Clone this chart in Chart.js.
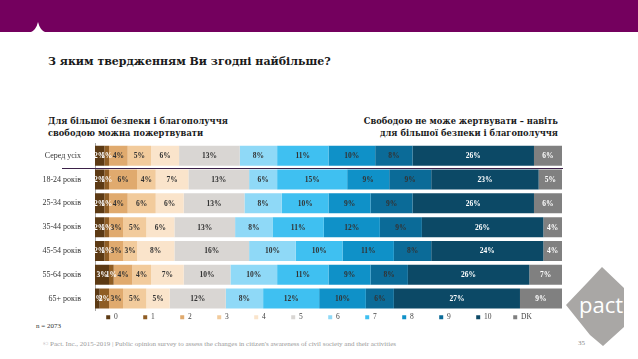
<!DOCTYPE html>
<html>
<head>
<meta charset="utf-8">
<script src="https://cdn.jsdelivr.net/npm/chart.js@4.4.1/dist/chart.umd.min.js"></script>
<style>
  body { margin:0; width:638px; height:359px; overflow:hidden; background:#fff; position:relative; font-family:"Liberation Serif", serif; }
  .band { position:absolute; left:0; top:0; width:638px; height:32px; background:#74005e; }
  .title { position:absolute; left:48px; top:55px; font-family:"DejaVu Serif", serif; font-size:11px; font-weight:bold; color:#1a1a1a; }
  .sub { position:absolute; top:115px; font-family:"DejaVu Serif", serif; font-size:8.3px; font-weight:bold; color:#1a1a1a; line-height:12px; }
  .left { left:48px; }
  .right { right:80px; text-align:right; }
  .n { position:absolute; left:36px; top:322px; font-size:7px; color:#333; }
  .foot { position:absolute; left:43px; top:340px; font-size:7px; color:#9a9a9a; }
  .page { position:absolute; left:578px; top:339px; font-size:7px; color:#8a8a8a; }
  #wrap { position:absolute; left:0; top:133px; width:638px; height:198px; }
  svg { position:absolute; left:0; top:0; }
</style>
</head>
<body>
<div class="band"></div>
<svg width="638" height="359">
  <path d="M31 32 Q36 30 38 22 Q40 30 45 32 Z" fill="#fff"/>
  <path d="M602 267 L624 288 L624 327 L603 346 L590 335 L566 305 L587 283 Z" fill="#a9a7a5"/>
  <text x="601" y="313" font-family="Open Sans, sans-serif" font-size="22" fill="#fff" text-anchor="middle">pact</text>
</svg>
<div class="title">З яким твердженням Ви згодні найбільше?</div>
<div class="sub left">Для більшої безпеки і благополуччя<br>свободою можна пожертвувати</div>
<div class="sub right">Свободою не може жертвувати – навіть<br>для більшої безпеки і благополуччя</div>
<div class="n">n = 2073</div>
<div class="foot">© Pact. Inc., 2015-2019 | Public opinion survey to assess the changes in citizen's awareness of civil society and their activities</div>
<div class="page">35</div>
<div id="wrap"><canvas id="c"></canvas></div>
<script>
// CATEGORIES
const groups = ["Серед усіх","18-24 років","25-34 років","35-44 років","45-54 років","55-64 років","65+ років"];
const seriesNames = ["0","1","2","3","4","5","6","7","8","9","10","DK"];

// VALUES (%), one array per answer, in the order of groups
const v0  = [2,2,2,2,2,3,1];
const v1  = [1,1,1,1,1,1,2];
const v2  = [4,6,4,3,3,4,3];
const v3  = [5,4,6,5,3,4,5];
const v4  = [6,7,6,6,8,7,5];
const v5  = [13,13,13,13,16,10,12];
const v6  = [8,6,8,8,10,10,8];
const v7  = [11,15,10,11,10,11,12];
const v8  = [10,9,9,12,11,9,10];
const v9  = [8,9,9,9,8,8,6];
const v10 = [26,23,26,26,24,26,27];
const vDK = [6,5,6,4,4,7,9];

const series = [v0,v1,v2,v3,v4,v5,v6,v7,v8,v9,v10,vDK];
const colors = ["#5c3a14","#8f5d24","#e0aa6e","#f2cb9c","#fae4cb","#d9d6d3","#8fd9f7","#3fc0f1","#0f91c8","#0b6b98","#0c4966","#808080"];
const whiteText = [true,true,false,false,false,false,false,false,false,false,true,true];

const legendFont = "7.5px 'Liberation Serif', serif";

// LABELS ON BARS
const barLabels = {
  id: "barLabels",
  afterDatasetsDraw(chart){
    const ctx = chart.ctx;
    ctx.save();
    ctx.font = "bold 7.5px 'Liberation Serif', serif";
    ctx.textAlign = "center";
    ctx.textBaseline = "middle";
    chart.data.datasets.forEach((ds, i) => {
      chart.getDatasetMeta(i).data.forEach((bar, j) => {
        ctx.fillStyle = whiteText[i] ? "#ffffff" : "#333333";
        ctx.fillText(ds.data[j] + "%", (bar.x + bar.base) / 2, bar.y + 0.5);
      });
    });
    // separator under the first row
    const y = chart.scales.y;
    const ly = Math.round((y.getPixelForValue(0) + y.getPixelForValue(1)) / 2) + 0.5;
    ctx.strokeStyle = "#3b2148";
    ctx.lineWidth = 1;
    ctx.beginPath();
    ctx.moveTo(62, ly);
    ctx.lineTo(chart.chartArea.right + 1, ly);
    ctx.stroke();
    ctx.restore();
  }
};

new Chart(document.getElementById("c"), {
  type: "bar",
  data: {
    labels: groups,
    datasets: series.map((d, i) => ({
      label: seriesNames[i],
      data: d,
      backgroundColor: colors[i],
      borderWidth: 0,
      barPercentage: 0.84,
      categoryPercentage: 1
    }))
  },
  options: {
    indexAxis: "y",
    responsive: true,
    maintainAspectRatio: false,
    animation: false,
    layout: { padding: { top: 3, right: 0, bottom: 0, left: 0 } },
    scales: {
      x: { stacked: true, min: 0, max: 100, display: false },
      y: {
        stacked: true,
        grid: { display: false },
        border: { display: true, color: "#a8a8a8" },
        ticks: { color: "#333", padding: 6, font: { family: "'Liberation Serif', serif", size: 8 } },
        afterFit(scale){ scale.width = 95; }
      },
      // empty right axis only keeps room for the logo
      y2: {
        position: "right",
        grid: { display: false },
        border: { display: false },
        ticks: { display: false },
        afterFit(scale){ scale.width = 76; }
      }
    },
    plugins: {
      tooltip: { enabled: false },
      legend: {
        position: "bottom",
        labels: {
          boxWidth: 4,
          boxHeight: 4,
          padding: 3,
          color: "#444",
          font: { family: "'Liberation Serif', serif", size: 7.5 },
          generateLabels(chart){
            const items = Chart.defaults.plugins.legend.labels.generateLabels(chart);
            const ctx = chart.ctx;
            ctx.save();
            ctx.font = legendFont;
            // even spacing: pad every label except the last one
            items.forEach((it, i) => {
              if (i === items.length - 1) return;
              let t = it.text;
              while (ctx.measureText(t).width < 26) t += " ";
              it.text = t;
            });
            ctx.restore();
            return items;
          }
        }
      }
    }
  },
  plugins: [barLabels]
});
</script>
</body>
</html>
